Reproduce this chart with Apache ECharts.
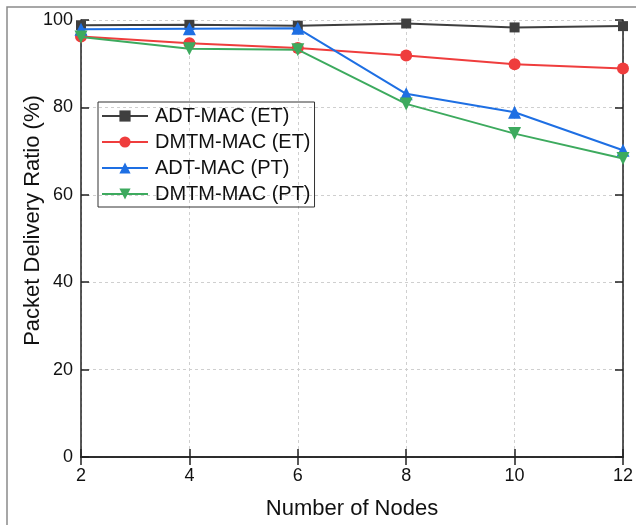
<!DOCTYPE html>
<html><head><meta charset="utf-8">
<script src="https://cdn.jsdelivr.net/npm/echarts@6/dist/echarts.min.js"></script>
<style>html,body{margin:0;padding:0;background:#fff}#c{width:636px;height:525px}</style>
</head><body><div id="c"></div>
<script>
const nodes = [2, 4, 6, 8, 10, 12];
const adtET = [98.8, 98.9, 98.7, 99.2, 98.3, 98.6];
const dmtmET = [96.2, 94.7, 93.6, 91.9, 89.9, 88.9];
const adtPT = [97.9, 98.0, 98.1, 83.1, 78.9, 70.2];
const dmtmPT = [96.1, 93.4, 93.2, 80.8, 74.0, 68.3];
const seriesNames = ['ADT-MAC (ET)', 'DMTM-MAC (ET)', 'ADT-MAC (PT)', 'DMTM-MAC (PT)'];
const yTicks = [0, 20, 40, 60, 80, 100];

const font = 'Liberation Sans';
const colors = ['#3f3f3f', '#ef3d3d', '#1e6fe3', '#3daa5e'];
const symbols = ['rect', 'circle', 'triangle', 'path://M0,0 L10,0 L5,9 Z'];
const sizes = [10, 12, 13, 13];
const datas = [adtET, dmtmET, adtPT, dmtmPT];

const chart = echarts.init(document.getElementById('c'), null, {renderer: 'canvas'});
const axisLine = {show: true, lineStyle: {color: '#222', width: 1.5}};
const split = {show: true, lineStyle: {color: '#cfcfcf', type: [3, 3], width: 1}};
const tick = {show: true, inside: true, length: 8, lineStyle: {color: '#222', width: 1.5}};
chart.setOption({
  animation: false,
  color: colors,
  graphic: [{type: 'rect', shape: {x: 7, y: 7, width: 700, height: 600}, style: {fill: 'none', stroke: '#8a8a8a', lineWidth: 1.5}, z: -1}],
  grid: {left: 81, right: 11, top: 20, bottom: 65, containLabel: false},
  legend: {
    left: 98, top: 102, orient: 'vertical',
    itemWidth: 46, itemHeight: 14, itemGap: 6,
    padding: [4, 4, 3, 3],
    borderColor: '#333', borderWidth: 1, borderRadius: 0,
    textStyle: {fontFamily: font, fontSize: 20, color: '#111', padding: [0,0,0,2]},
    data: seriesNames
  },
  xAxis: [{
    type: 'value', min: 2, max: 12, interval: 2, position: 'bottom',
    name: 'Number of Nodes', nameLocation: 'middle', nameGap: 41, nameMoveOverlap: false,
    nameTextStyle: {fontFamily: font, fontSize: 22, color: '#111'},
    axisLine, axisTick: tick,
    axisLabel: {fontFamily: font, fontSize: 18, color: '#111', margin: 10},
    splitLine: split
  }, {
    type: 'value', min: 2, max: 12, interval: 2, position: 'top',
    axisLine, axisTick: tick,
    axisLabel: {show: false}, splitLine: {show: false}
  }],
  yAxis: [{
    type: 'value', min: 0, max: 100, interval: 20, position: 'left',
    name: 'Packet Delivery Ratio (%)', nameLocation: 'middle', nameGap: 37, nameMoveOverlap: false,
    nameTextStyle: {fontFamily: font, fontSize: 22, color: '#111', padding: [0, 0, 0, 36]},
    axisLine, axisTick: tick,
    axisLabel: {fontFamily: font, fontSize: 18, color: '#111', margin: 8, formatter: v => yTicks.includes(v) ? String(v) : ''},
    splitLine: split
  }, {
    type: 'value', min: 0, max: 100, interval: 20, position: 'right',
    axisLine, axisTick: tick,
    axisLabel: {show: false}, splitLine: {show: false}
  }],
  series: seriesNames.map((n, i) => ({
    name: n, type: 'line', xAxisIndex: 0, yAxisIndex: 0,
    data: nodes.map((x, j) => [x, datas[i][j]]),
    symbol: symbols[i], symbolSize: sizes[i], showSymbol: true,
    lineStyle: {width: 2, color: colors[i]},
    itemStyle: {color: colors[i]},
    clip: false, z: 2 + i
  }))
});
</script></body></html>
